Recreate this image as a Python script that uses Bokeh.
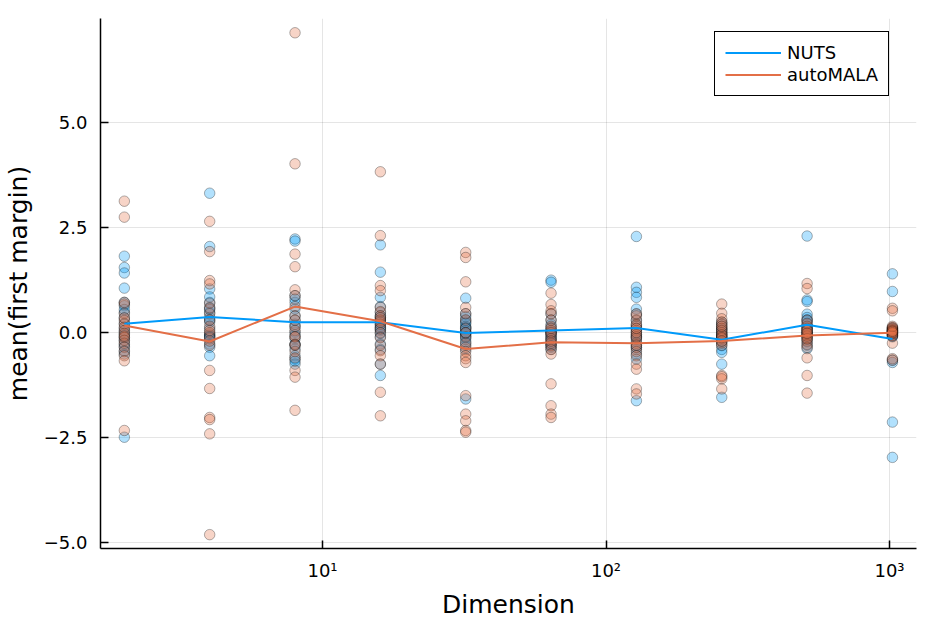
from bokeh.plotting import figure
from bokeh.models import Range1d, FixedTicker, Legend, LegendItem
from bokeh.embed import file_html
from bokeh.resources import INLINE

# ---------------- data ----------------
dims = [2, 4, 8, 16, 32, 64, 128, 256, 512, 1024]

nuts_d2 = [1.82, 1.55, 1.42, 1.06, 0.72, 0.64, 0.48, 0.35, 0.22, 0.10, 0.02, -0.05, -0.12, -0.19, -0.28, -0.33, -0.43, -0.51, -2.49, 0.55]
nuts_d4 = [3.32, 2.05, 1.04, 0.72, 0.60, 0.48, 0.36, 0.25, 0.10, -0.03, -0.06, -0.08, -0.10, -0.27, -0.35, -0.55, 0.55, 0.30, -0.15, 0.85]
nuts_d8 = [2.23, 2.18, 0.88, 0.72, 0.40, 0.29, 0.13, 0.01, -0.15, -0.27, -0.39, -0.55, -0.63, -0.75, 0.56, 0.20, -0.05, -0.30, -0.68, 0.80]
nuts_d16 = [2.09, 1.44, 0.84, 0.62, 0.48, 0.36, 0.28, 0.20, 0.12, 0.05, -0.02, -0.10, -0.27, -0.40, -0.75, -1.02, 0.40, 0.15, 0.30, 0.08]
nuts_d32 = [0.82, 0.45, 0.38, 0.30, 0.22, 0.15, 0.10, 0.05, 0.00, -0.05, -0.10, -0.15, -0.22, -0.30, -0.40, -1.58, 0.12, -0.02, 0.25, 0.00]
nuts_d64 = [1.25, 1.20, 0.45, 0.30, 0.20, 0.12, 0.05, 0.00, -0.05, -0.10, -0.15, -0.20, -0.28, -0.35, -0.40, -0.30, -0.02, -0.25, -0.12, 0.02]
nuts_d128 = [2.29, 1.08, 0.96, 0.84, 0.56, 0.44, 0.30, 0.18, 0.10, 0.02, -0.05, -0.12, -0.20, -0.30, -0.51, -0.63, -1.62, -0.40, -0.10, -0.35]
nuts_d256 = [0.25, 0.15, 0.08, 0.00, -0.05, -0.10, -0.15, -0.22, -0.31, -0.40, -0.47, -0.75, -1.54, 0.10, -0.02, 0.20, -0.20, 0.05, -0.08, -0.12]
nuts_d512 = [2.30, 0.78, 0.74, 0.44, 0.36, 0.28, 0.20, 0.12, 0.05, 0.00, -0.05, -0.10, -0.15, -0.22, -0.30, -0.38, 0.15, 0.08, 0.30, -0.02]
nuts_d1024 = [1.40, 0.98, 0.10, 0.05, 0.02, 0.00, -0.02, -0.05, -0.08, -0.65, -0.71, -2.13, -2.97, 0.08, -0.03, 0.03, -0.06, 0.12, -0.10, 0.06]

mala_d2 = [3.13, 2.75, 0.72, 0.68, 0.45, 0.29, 0.20, 0.13, 0.05, -0.02, -0.11, -0.18, -0.25, -0.35, -0.45, -0.55, -0.67, -2.33, 0.35, -0.08]
mala_d4 = [2.65, 1.93, 1.24, 1.16, 0.70, 0.45, 0.30, 0.15, 0.00, -0.12, -0.30, -0.90, -1.33, -2.02, -2.07, -2.41, -4.81, 0.58, -0.20, 0.05]
mala_d8 = [7.14, 4.02, 1.87, 1.57, 1.02, 0.88, 0.62, 0.40, 0.30, 0.15, 0.05, -0.10, -0.28, -0.45, -0.60, -0.90, -1.06, -1.85, -0.10, -0.30]
mala_d16 = [3.83, 2.31, 1.12, 1.00, 0.60, 0.50, 0.40, 0.30, 0.20, 0.10, 0.00, -0.12, -0.30, -0.43, -0.55, -0.75, -1.42, -1.98, 0.25, 0.35]
mala_d32 = [1.91, 1.79, 1.21, 0.60, 0.30, 0.10, -0.10, -0.25, -0.35, -0.45, -0.55, -0.62, -0.71, -1.50, -1.94, -2.10, -2.33, -2.37, 0.00, 0.45]
mala_d64 = [0.94, 0.67, 0.52, 0.45, 0.30, 0.15, 0.05, -0.05, -0.15, -0.25, -0.32, -0.40, -0.51, -1.22, -1.74, -1.94, -2.02, 0.00, -0.20, 0.10]
mala_d128 = [0.29, 0.15, 0.05, -0.05, -0.15, -0.25, -0.35, -0.45, -0.55, -0.75, -0.87, -1.34, -1.46, 0.40, 0.20, -0.10, 0.00, 0.45, -0.30, 0.10]
mala_d256 = [0.68, 0.46, 0.33, 0.20, 0.10, 0.00, -0.08, -0.15, -0.25, -1.02, -1.10, -1.34, -0.30, 0.25, 0.05, -0.05, -0.12, -0.20, -1.05, 0.15]
mala_d512 = [1.17, 1.05, 0.30, 0.15, 0.05, -0.05, -0.12, -0.20, -0.28, -0.35, -0.60, -1.02, -1.44, 0.10, 0.00, -0.08, 0.22, -0.15, -0.02, 0.05]
mala_d1024 = [0.58, 0.52, 0.12, 0.08, 0.05, 0.02, 0.00, -0.03, -0.06, -0.25, -0.62, -0.66, 0.10, 0.04, -0.02, 0.06, -0.08, 0.15, 0.00, 0.03]

nuts_mean = [0.21, 0.37, 0.25, 0.25, -0.01, 0.05, 0.11, -0.17, 0.19, -0.15]
mala_mean = [0.17, -0.21, 0.62, 0.27, -0.39, -0.23, -0.25, -0.20, -0.07, 0.00]

x_ticks = [10, 100, 1000]
x_tick_labels = ["10\u00b9", "10\u00b2", "10\u00b3"]
y_ticks = [-5.0, -2.5, 0.0, 2.5, 5.0]
y_tick_labels = ["\u22125.0", "\u22122.5", "0.0", "2.5", "5.0"]

nuts_cols = [nuts_d2, nuts_d4, nuts_d8, nuts_d16, nuts_d32, nuts_d64, nuts_d128, nuts_d256, nuts_d512, nuts_d1024]
mala_cols = [mala_d2, mala_d4, mala_d8, mala_d16, mala_d32, mala_d64, mala_d128, mala_d256, mala_d512, mala_d1024]

BLUE = "#009AFA"
ORANGE = "#E36F47"
FONT = "DejaVu Sans"


def flatten(cols):
    xs, ys = [], []
    for d, vals in zip(dims, cols):
        xs.extend([d] * len(vals))
        ys.extend(vals)
    return xs, ys


p = figure(
    x_axis_type="log",
    x_range=Range1d(1.648, 1245),
    y_range=Range1d(-5.14, 7.48),
    frame_width=816, frame_height=530,
    min_border_left=100, min_border_right=10, min_border_top=18, min_border_bottom=64,
    output_backend="svg", toolbar_location=None,
)
p.outline_line_color = None
p.background_fill_color = "white"
p.border_fill_color = "white"

nx, ny = flatten(nuts_cols)
mx, my = flatten(mala_cols)
p.scatter(nx, ny, size=10.5, fill_color=BLUE, fill_alpha=0.3,
          line_color="black", line_alpha=0.3, line_width=1)
p.scatter(mx, my, size=10.5, fill_color=ORANGE, fill_alpha=0.3,
          line_color="black", line_alpha=0.3, line_width=1)

l1 = p.line(dims, nuts_mean, line_color=BLUE, line_width=2)
l2 = p.line(dims, mala_mean, line_color=ORANGE, line_width=2)

# axes
p.xaxis.ticker = FixedTicker(ticks=x_ticks, minor_ticks=[])
p.xaxis.major_label_overrides = {t: s for t, s in zip(x_ticks, x_tick_labels)}
p.yaxis.ticker = FixedTicker(ticks=y_ticks, minor_ticks=[])
p.yaxis.major_label_overrides = {t: s for t, s in zip(y_ticks, y_tick_labels)}

for ax in (p.xaxis[0], p.yaxis[0]):
    ax.axis_line_color = "black"
    ax.axis_line_width = 1.5
    ax.major_tick_in = 8
    ax.major_tick_out = 0
    ax.major_tick_line_width = 1.5
    ax.major_tick_line_color = "black"
    ax.minor_tick_in = 0
    ax.minor_tick_out = 0
    ax.major_label_text_font = FONT
    ax.major_label_text_font_size = "18px"
    ax.major_label_text_color = "black"
    ax.axis_label_text_font = FONT
    ax.axis_label_text_font_size = "25px"
    ax.axis_label_text_font_style = "normal"
    ax.axis_label_text_color = "black"

p.xaxis.axis_label = "Dimension"
p.yaxis.axis_label = "mean(first margin)"
p.xaxis.major_label_standoff = 11
p.xaxis.axis_label_standoff = 6
p.yaxis.major_label_standoff = 13
p.yaxis.axis_label_standoff = 8

p.grid.grid_line_color = "black"
p.grid.grid_line_alpha = 0.1
p.grid.grid_line_width = 1

legend = Legend(
    items=[LegendItem(label="NUTS", renderers=[l1]),
           LegendItem(label="autoMALA", renderers=[l2])],
    location=(614, 452),
)
legend.border_line_color = "black"
legend.border_line_width = 1.3
legend.border_line_alpha = 1
legend.background_fill_color = "white"
legend.background_fill_alpha = 1
legend.label_text_font = FONT
legend.label_text_font_size = "18px"
legend.label_text_color = "black"
legend.glyph_width = 56
legend.glyph_height = 19
legend.label_height = 19
legend.label_standoff = 6
legend.padding = 10
legend.spacing = 1
legend.margin = 0
p.add_layout(legend)

open("out.html", "w").write(file_html(p, INLINE))
